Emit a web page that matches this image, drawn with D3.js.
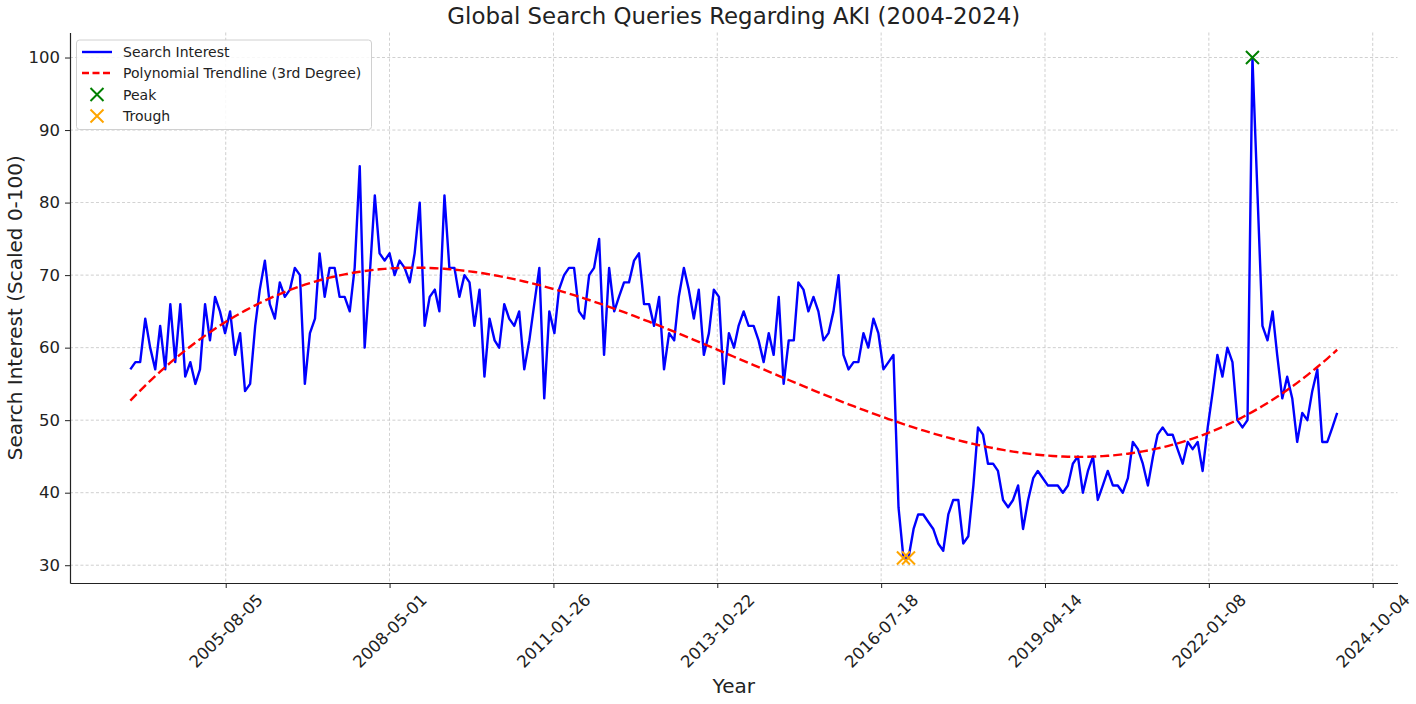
<!DOCTYPE html>
<html><head><meta charset="utf-8">
<script src="https://cdn.jsdelivr.net/npm/d3@7"></script>
<style>
body{margin:0;background:#fff}
svg{display:block}
text{font-family:"DejaVu Sans",sans-serif;fill:#222}
</style>
</head><body><svg id="chart" width="1416" height="704"></svg>
<script>
// ---- data (monthly, starting Jan 2004) ----
const startYear = 2004;
const startMonthIndex = 0;
const searchInterest = [
 57,58,58,64,60,57,63,57,66,58,66,56,58,55,57,66,61,67,65,62,
 65,59,62,54,55,63,68,72,66,64,69,67,68,71,70,55,62,64,73,67,
 71,71,67,67,65,71,85,60,70,81,73,72,73,70,72,71,69,73,80,63,
 67,68,65,81,71,71,67,70,69,63,68,56,64,61,60,66,64,63,65,57,
 61,66,71,53,65,62,68,70,71,71,65,64,70,71,75,59,71,65,67,69,
 69,72,73,66,66,63,67,57,62,61,67,71,68,64,68,59,62,68,67,55,
 62,60,63,65,63,63,61,58,62,59,67,55,61,61,69,68,65,67,65,61,
 62,65,70,59,57,58,58,62,60,64,62,57,58,59,38,31,31,35,37,37,
 36,35,33,32,37,39,39,33,34,41,49,48,44,44,43,39,38,39,41,35,
 39,42,43,42,41,41,41,40,41,44,45,40,43,45,39,41,43,41,41,40,
 42,47,46,44,41,45,48,49,48,48,46,44,47,46,47,43,49,54,59,56,
 60,58,50,49,50,100,81,63,61,65,59,53,56,53,47,51,50,54,57,47,
 47,49,51
];
const xTickLabels = ["2005-08-05","2008-05-01","2011-01-26","2013-10-22","2016-07-18","2019-04-14","2022-01-08","2024-10-04"];
const yTickValues = [30,40,50,60,70,80,90,100];
const titleText = "Global Search Queries Regarding AKI (2004-2024)";
const xLabelText = "Year";
const yLabelText = "Search Interest (Scaled 0-100)";
const legendLabels = ["Search Interest","Polynomial Trendline (3rd Degree)","Peak","Trough"];

// ---- derived ----
const dates = searchInterest.map((_, i) => new Date(Date.UTC(startYear, startMonthIndex + i, 1)));
const data = searchInterest.map((v, i) => ({date: dates[i], value: v, i}));

// cubic least-squares fit (on normalised time)
function polyfit(xs, ys, deg) {
  const n = deg + 1;
  const A = Array.from({length:n}, () => new Array(n).fill(0));
  const b = new Array(n).fill(0);
  xs.forEach((x, k) => {
    const p = [];
    for (let j = 0; j < n; j++) p.push(Math.pow(x, j));
    for (let r = 0; r < n; r++) {
      b[r] += p[r] * ys[k];
      for (let c = 0; c < n; c++) A[r][c] += p[r] * p[c];
    }
  });
  for (let c = 0; c < n; c++) {
    let piv = c;
    for (let r = c + 1; r < n; r++) if (Math.abs(A[r][c]) > Math.abs(A[piv][c])) piv = r;
    [A[c], A[piv]] = [A[piv], A[c]]; [b[c], b[piv]] = [b[piv], b[c]];
    for (let r = 0; r < n; r++) {
      if (r === c) continue;
      const f = A[r][c] / A[c][c];
      for (let k = c; k < n; k++) A[r][k] -= f * A[c][k];
      b[r] -= f * b[c];
    }
  }
  return b.map((v, i) => v / A[i][i]);
}
const t0 = +dates[0], t1 = +dates[dates.length - 1];
const tn = dates.map(d => 2 * (+d - t0) / (t1 - t0) - 1);
const coef = polyfit(tn, searchInterest, 3);
const trend = data.map((d, k) => ({date: d.date, value: coef.reduce((s, c, j) => s + c * Math.pow(tn[k], j), 0)}));

const maxV = d3.max(searchInterest), minV = d3.min(searchInterest);
const peaks = data.filter(d => d.value === maxV);
const troughs = data.filter(d => d.value === minV);

// ---- layout ----
const svg = d3.select("#chart");
const L = 70, R = 1397.5, T = 32.5, B = 583;

const tExt = d3.extent(dates);
const tPad = (tExt[1] - tExt[0]) * 0.05;
const x = d3.scaleUtc().domain([new Date(+tExt[0] - tPad), new Date(+tExt[1] + tPad)]).range([L, R]);
const yPad = (maxV - minV) * 0.05;
const y = d3.scaleLinear().domain([minV - yPad, maxV + yPad]).range([B, T]);

const xTicks = xTickLabels.map(s => new Date(s + "T00:00:00Z"));

// grid
const grid = svg.append("g");
grid.selectAll(".gx").data(xTicks).join("line")
  .attr("x1", d => x(d)).attr("x2", d => x(d)).attr("y1", T).attr("y2", B)
  .attr("stroke", "#b0b0b0").attr("stroke-width", 0.8).attr("stroke-dasharray", "3,2.2").attr("opacity", 0.75);
grid.selectAll(".gy").data(yTickValues).join("line")
  .attr("x1", L).attr("x2", R).attr("y1", d => y(d)).attr("y2", d => y(d))
  .attr("stroke", "#b0b0b0").attr("stroke-width", 0.8).attr("stroke-dasharray", "3,2.2").attr("opacity", 0.75);

// axes
const xAxis = d3.axisBottom(x).tickValues(xTicks).tickSize(5).tickSizeOuter(0).tickFormat(d3.utcFormat("%Y-%m-%d"));
const gx = svg.append("g").attr("transform", `translate(0,${B})`).call(xAxis);
gx.select(".domain").attr("stroke", "#222").attr("stroke-width", 1.2);
gx.selectAll(".tick line").attr("stroke", "#222").attr("stroke-width", 1);
gx.selectAll(".tick text")
  .attr("font-size", 16.5).attr("font-family", "DejaVu Sans").attr("fill", "#222")
  .attr("text-anchor", "middle").attr("dy", null).attr("y", 0)
  .attr("dominant-baseline", "central")
  .attr("transform", "translate(0,48) rotate(-45)");

const yAxis = d3.axisLeft(y).tickValues(yTickValues).tickSize(5).tickSizeOuter(0).tickPadding(5);
const gy = svg.append("g").attr("transform", `translate(${L},0)`).call(yAxis);
gy.select(".domain").attr("stroke", "#222").attr("stroke-width", 1.2);
gy.selectAll(".tick line").attr("stroke", "#222").attr("stroke-width", 1);
gy.selectAll(".tick text").attr("font-size", 16.5).attr("font-family", "DejaVu Sans").attr("fill", "#222");

// series
const line = d3.line().x(d => x(d.date)).y(d => y(d.value));
svg.append("path").datum(data).attr("d", line)
  .attr("fill", "none").attr("stroke", "#0000ff").attr("stroke-width", 2.4).attr("stroke-linejoin", "round");
svg.append("path").datum(trend).attr("d", line)
  .attr("fill", "none").attr("stroke", "#ff0000").attr("stroke-width", 2.4).attr("stroke-dasharray", "9,4");

function xMark(g, cx, cy, size, color) {
  const h = size / 2;
  g.append("path").attr("d", `M${cx-h},${cy-h}L${cx+h},${cy+h}M${cx-h},${cy+h}L${cx+h},${cy-h}`)
    .attr("stroke", color).attr("stroke-width", 2).attr("fill", "none");
}
const marks = svg.append("g");
peaks.forEach(d => xMark(marks, x(d.date), y(d.value), 13, "#008000"));
troughs.forEach(d => xMark(marks, x(d.date), y(d.value), 13, "#ffa500"));

// labels
svg.append("text").attr("x", (L + R) / 2).attr("y", 16).attr("text-anchor", "middle")
  .attr("dominant-baseline", "central").attr("font-size", 22.9).text(titleText);
svg.append("text").attr("x", (L + R) / 2).attr("y", 686).attr("text-anchor", "middle")
  .attr("dominant-baseline", "central").attr("font-size", 20).text(xLabelText);
svg.append("text").attr("transform", `translate(15,${(T + B) / 2}) rotate(-90)`).attr("text-anchor", "middle")
  .attr("dominant-baseline", "central").attr("font-size", 20).text(yLabelText);

// legend
const lg = svg.append("g");
lg.append("rect").attr("x", 76.5).attr("y", 40).attr("width", 295).attr("height", 89.5).attr("rx", 3)
  .attr("fill", "#fff").attr("fill-opacity", 0.85).attr("stroke", "#d0d0d0").attr("stroke-width", 1);
const rowsY = [52, 73, 94.5, 116];
lg.append("line").attr("x1", 82).attr("x2", 112).attr("y1", rowsY[0]).attr("y2", rowsY[0])
  .attr("stroke", "#0000ff").attr("stroke-width", 2.4);
lg.append("line").attr("x1", 82).attr("x2", 112).attr("y1", rowsY[1]).attr("y2", rowsY[1])
  .attr("stroke", "#ff0000").attr("stroke-width", 2.4).attr("stroke-dasharray", "7,3.5");
xMark(lg, 97, rowsY[2], 13, "#008000");
xMark(lg, 97, rowsY[3], 13, "#ffa500");
lg.selectAll(".lt").data(legendLabels).join("text")
  .attr("x", 123).attr("y", (d, i) => rowsY[i]).attr("dominant-baseline", "central")
  .attr("font-size", 14).attr("fill", "#333").text(d => d);
</script>
</body></html>
